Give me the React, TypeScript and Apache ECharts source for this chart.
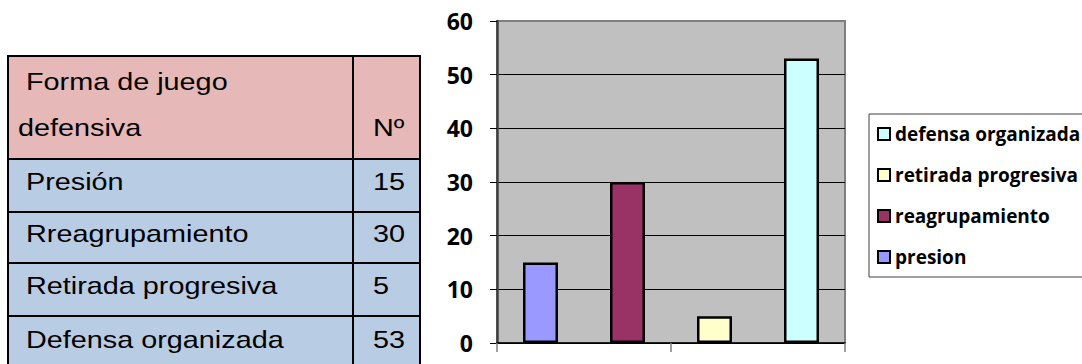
import React, { useEffect, useRef } from "react";
import * as echarts from "echarts";

const categories = ["presion", "reagrupamiento", "retirada progresiva", "defensa organizada"];
const values = [15, 30, 5, 53];
const barColors = ["#9999FF", "#993366", "#FFFFCC", "#CCFFFF"];
const legendOrder = ["defensa organizada", "retirada progresiva", "reagrupamiento", "presion"];

const tableHeader = [" Forma de juego", "defensiva", "Nº"];
const tableNames = ["Presión", "Rreagrupamiento", "Retirada progresiva", "Defensa organizada"];
const tableValues = [15, 30, 5, 53];

function buildTable(): any[] {
  const left = 8, mid = 353, right = 420, top = 56, headBottom = 159;
  const rowLines = [159, 212, 263, 316, 372];
  const els: any[] = [];
  els.push({ type: "rect", shape: { x: left, y: top, width: right - left, height: headBottom - top }, style: { fill: "#E6B8B7" } });
  els.push({ type: "rect", shape: { x: left, y: headBottom, width: right - left, height: 372 - headBottom }, style: { fill: "#B8CCE4" } });
  const txt = (t: string, x: number, y: number) => ({
    type: "text", x, y, scaleX: 1.2,
    style: { text: t, fill: "#000", font: "24px 'Liberation Sans', Arial, sans-serif", textAlign: "left", textVerticalAlign: "middle" },
  });
  els.push(txt(tableHeader[0], 18, 82));
  els.push(txt(tableHeader[1], 18, 128));
  els.push(txt(tableHeader[2], 373, 128));
  tableNames.forEach((n, i) => {
    const cy = (rowLines[i] + rowLines[i + 1]) / 2 - 4;
    els.push(txt(" " + n, 18, cy));
    els.push(txt(String(tableValues[i]), 373, cy));
  });
  const ls = { stroke: "#000", lineWidth: 2 };
  els.push({ type: "line", shape: { x1: left - 1, y1: top, x2: right + 1, y2: top }, style: ls });
  rowLines.slice(0, 4).forEach((y) => els.push({ type: "line", shape: { x1: left, y1: y, x2: right, y2: y }, style: ls }));
  [left, mid, right].forEach((x) => els.push({ type: "line", shape: { x1: x, y1: top, x2: x, y2: 372 }, style: ls }));
  return els;
}

export default function App() {
  const ref = useRef<HTMLDivElement>(null);
  useEffect(() => {
    document.body.style.margin = "0";
    const chart = echarts.init(ref.current!, null, { renderer: "svg" });
    chart.setOption({
      animation: false,
      backgroundColor: "#FFFFFF",
      grid: {
        left: 497, top: 21, right: 237, bottom: 21,
        show: true, backgroundColor: "#C0C0C0", borderColor: "#808080", borderWidth: 2,
      },
      legend: {
        orient: "vertical",
        left: 869, top: 114,
        data: legendOrder,
        icon: "rect",
        itemWidth: 12, itemHeight: 12,
        itemGap: 21,
        padding: [10, 80, 10, 8],
        borderColor: "#404040", borderWidth: 1,
        itemStyle: { borderColor: "#000", borderWidth: 2 },
        textStyle: { fontFamily: "'Open Sans'", fontWeight: 700, fontSize: 19, color: "#000", lineHeight: 20 },
      },
      xAxis: {
        type: "category",
        data: categories,
        axisLine: { show: true, lineStyle: { color: "#000", width: 1.5 } },
        axisTick: { show: true, length: 9, lineStyle: { color: "#808080", width: 1.5 } },
        axisLabel: { show: false },
        splitLine: { show: false },
      },
      yAxis: {
        type: "value",
        min: 0, max: 60, interval: 10,
        axisLine: { show: true, lineStyle: { color: "#404040", width: 2.5 } },
        axisTick: { show: true, length: 7, lineStyle: { color: "#000", width: 1 } },
        axisLabel: { margin: 24, fontFamily: "'Open Sans'", fontWeight: 700, fontSize: 23, color: "#000" },
        splitLine: { show: true, lineStyle: { color: ["#000", "#000", "#000", "#000", "#000", "#000", "#808080"], width: 1 } },
      },
      series: categories.map((name, i) => ({
        type: "bar",
        name,
        stack: "all",
        barWidth: 35,
        data: values.map((v, j) => (j === i ? v : "-")),
        itemStyle: { color: barColors[i], borderColor: "#000", borderWidth: 2.5 },
      })),
      graphic: buildTable(),
    });
    return () => chart.dispose();
  }, []);
  return <div ref={ref} style={{ position: "fixed", left: 0, top: 0, width: 1082, height: 364 }} />;
}
